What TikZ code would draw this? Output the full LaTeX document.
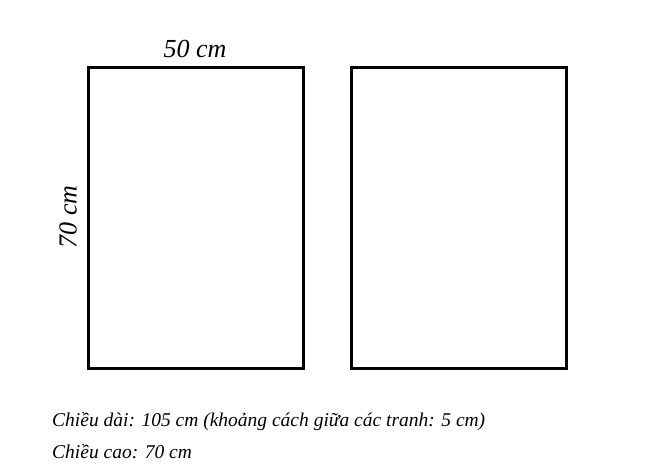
\documentclass[tikz,border=0pt]{standalone}
\usepackage{fontspec}
\setmainfont{Liberation Serif}
\begin{document}
\begin{tikzpicture}[x=1pt,y=-1pt,
  frame/.style={draw=black,line width=3pt},
  lbl/.style={font=\itshape\fontsize{26}{30}\selectfont,inner sep=0pt},
  note/.style={font=\itshape\fontsize{19.5}{23}\selectfont,inner sep=0pt,anchor=base west}]
\useasboundingbox (0,0) rectangle (655,475);
\draw[frame] (88.5,67.5) rectangle (303.5,368.5);
\draw[frame] (351.5,67.5) rectangle (566.5,368.5);
\node[lbl] (w) at (195,49) {50 cm};
\node[lbl,rotate=90] (h) at (68,217) {70 cm};
\node[note] (l1) at (52,426) {Chiều dài: 105 cm (khoảng cách giữa các tranh: 5 cm)};
\node[note] (l2) at (52,458) {Chiều cao: 70 cm};
\end{tikzpicture}
\end{document}
